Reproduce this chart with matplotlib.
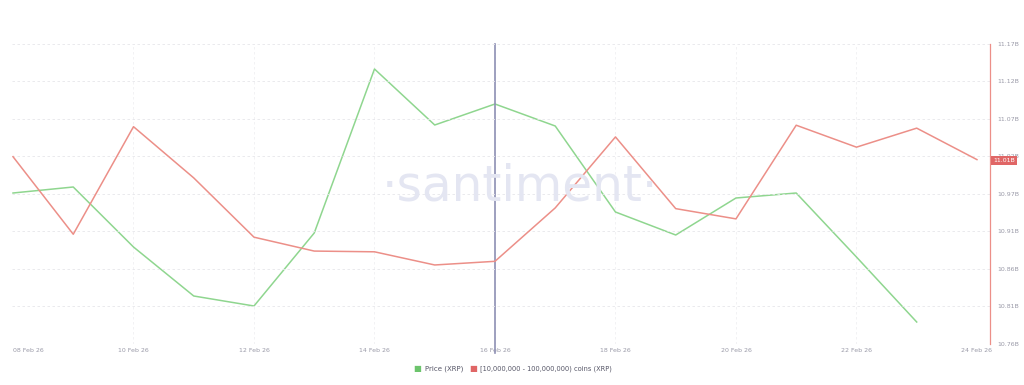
import matplotlib
matplotlib.use("Agg")
import matplotlib.pyplot as plt
import numpy as np
import pandas as pd

# data
dates = ["2026-02-08", "2026-02-09", "2026-02-10", "2026-02-11", "2026-02-12",
         "2026-02-13", "2026-02-14", "2026-02-15", "2026-02-16", "2026-02-17",
         "2026-02-18", "2026-02-19", "2026-02-20", "2026-02-21", "2026-02-22",
         "2026-02-23", "2026-02-24"]
price = [1.451, 1.457, 1.397, 1.348, 1.338, 1.411, 1.575, 1.519, 1.540,
         1.518, 1.432, 1.409, 1.446, 1.451, 1.387, 1.322, np.nan]
holdings = [11.016, 10.910, 11.057, 10.987, 10.906, 10.887, 10.886, 10.868,
            10.873, 10.946, 11.043, 10.945, 10.931, 11.059, 11.029, 11.055, 11.012]
tick_dates = ["2026-02-08", "2026-02-10", "2026-02-12", "2026-02-14", "2026-02-16",
              "2026-02-18", "2026-02-20", "2026-02-22", "2026-02-24"]
right_labels = ["10.76B", "10.81B", "10.86B", "10.91B", "10.97B",
                "11.02B", "11.07B", "11.12B", "11.17B"]
marker_date = "2026-02-16"

x = pd.to_datetime(dates)
green = "#8fd68f"
red = "#ec8f88"
ymin, ymax = 10.76, 11.17

fig = plt.figure(figsize=(10.24, 3.85), dpi=100)
ax = fig.add_axes([12 / 1024, 1 - 344 / 385, 978 / 1024, 300 / 385])
ax2 = ax.twinx()

# watermark
fig.text(0.508, 0.515, "\u00b7santiment\u00b7", fontsize=35, color="#e4e6f2",
         ha="center", va="center", zorder=0)

ax.plot(x, price, color=green, lw=1.1, zorder=3)
ax2.plot(x, holdings, color=red, lw=1.1, zorder=3)

ax.set_ylim(1.30, 1.60)
ax.set_yticks([])
ax2.set_ylim(ymin, ymax)
rt = np.linspace(ymin, ymax, len(right_labels))
ax2.set_yticks(rt)
ax2.set_yticklabels(right_labels)
ax2.tick_params(axis="y", length=0, pad=5, labelsize=4.5, labelcolor="#9a9aa8")
for y in rt:
    ax2.axhline(y, color="#e6e6ea", lw=0.6, ls=(0, (3, 3)), zorder=1)

xs = pd.to_datetime(tick_dates)
ax.set_xlim(x[0] - pd.Timedelta(hours=0.4), x[-1] + pd.Timedelta(hours=5.2))
ax.set_xticks(xs)
ax.set_xticklabels([d.strftime("%d %b %y") for d in xs])
ax.tick_params(axis="x", length=0, pad=3, labelsize=4.5, labelcolor="#9a9aa8")
ax.get_xticklabels()[0].set_ha("left")
for d in xs[1:-1]:
    ax.axvline(d, color="#f0f0f3", lw=0.6, ls=(0, (3, 3)), zorder=1)

for a in (ax, ax2):
    for s in ("top", "left", "bottom"):
        a.spines[s].set_visible(False)
ax.spines["right"].set_visible(False)
ax2.spines["right"].set_color(red)
ax2.spines["right"].set_linewidth(0.9)

# selected day marker
ax.axvline(pd.Timestamp(marker_date), ymin=-0.03, ymax=1.0, color="#8e90b4",
           lw=1.2, clip_on=False, zorder=4)

# current value badge, sits over the 11.02B tick label like in the app
last = holdings[-1]
ax2.text(1.003, (last - ymin) / (ymax - ymin) - 0.004, f"{last:.2f}B",
         transform=ax2.transAxes, fontsize=4.5, color="white", va="center", ha="left",
         bbox=dict(boxstyle="square,pad=0.3", fc="#e06666", ec="none"), zorder=6)

# legend
fig.text(0.404, 0.043, "\u25a0", color="#6cc46c", fontsize=6, ha="left", va="center")
fig.text(0.415, 0.043, "Price (XRP)", color="#555566", fontsize=5, ha="left", va="center")
fig.text(0.458, 0.043, "\u25a0", color="#e06666", fontsize=6, ha="left", va="center")
fig.text(0.469, 0.043, "[10,000,000 - 100,000,000) coins (XRP)", color="#555566",
         fontsize=4.8, ha="left", va="center")

fig.savefig("out.png", dpi=100, facecolor="white")
